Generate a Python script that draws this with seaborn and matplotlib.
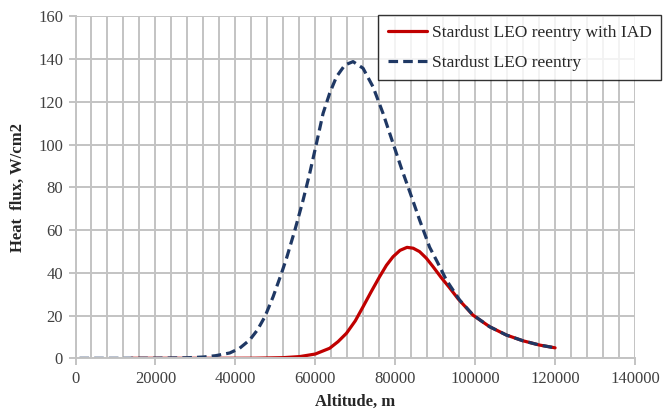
import matplotlib
matplotlib.use("Agg")
import matplotlib.pyplot as plt
import seaborn as sns
import pandas as pd
from matplotlib.ticker import MultipleLocator

# Data
alt_iad = [14000, 25000, 35000, 45000, 52000, 56100, 60000, 63600, 65700, 67800, 70000,
           71950, 74000, 76100, 77800, 79450, 81200, 82950, 84500, 86100, 87800,
           89450, 91500, 93600, 95700, 97800, 99450, 103600, 107800, 111950, 116100, 120000]
flux_iad = [0.0, 0.0, 0.0, 0.05, 0.3, 0.8, 2.0, 4.7, 7.8, 11.7, 17.5,
            24.1, 31.2, 38.2, 43.5, 47.5, 50.5, 51.9, 51.5, 49.9, 46.8,
            42.9, 37.8, 33.0, 27.9, 23.6, 20.2, 14.8, 10.9, 8.2, 6.2, 4.9]

alt_leo = [1000, 10000, 20000, 28000, 32000, 35000, 38600, 41000, 43600, 45500, 47400,
           49450, 51550, 52800, 54900, 56950, 58600, 60300, 61950, 63600, 65300,
           67400, 69450, 71950, 74450, 76950, 79450, 81550, 84000, 86100, 88600,
           90500, 92800, 96100, 99450, 103600, 107800, 111950, 116100, 120000]
flux_leo = [0.0, 0.0, 0.05, 0.25, 0.6, 1.2, 2.5, 4.6, 8.6, 13.2, 19.5,
            28.8, 39.8, 46.8, 60.0, 74.0, 86.5, 100.6, 114.6, 124.0, 131.7,
            137.2, 138.8, 135.7, 127.0, 114.6, 100.6, 88.9, 76.0, 64.7, 52.0,
            45.2, 36.6, 27.3, 20.3, 14.8, 10.9, 8.2, 6.2, 4.9]

label_iad = "Stardust LEO reentry with IAD"
label_leo = "Stardust LEO reentry"

df = pd.concat([
    pd.DataFrame({"alt": alt_iad, "flux": flux_iad, "series": label_iad}),
    pd.DataFrame({"alt": alt_leo, "flux": flux_leo, "series": label_leo}),
])

sns.set_theme(style="white")
plt.rcParams["font.family"] = ["Liberation Serif", "DejaVu Serif"]

fig = plt.figure(figsize=(6.7, 4.12), dpi=100)
ax = fig.add_axes([75.5 / 670, 1 - 358.3 / 412, 559.5 / 670, 342 / 412])

grid_c = "#c3c3c3"
sns.lineplot(data=df, x="alt", y="flux", hue="series", style="series",
             hue_order=[label_iad, label_leo], style_order=[label_iad, label_leo],
             palette=["#c00000", "#1f3864"],
             dashes={label_iad: "", label_leo: (3, 1.6)},
             linewidth=2.3, ax=ax, legend=True, sort=False)
for ln in ax.lines:
    ln.set_solid_joinstyle("round")
    ln.set_dash_joinstyle("round")

ax.set_xlim(0, 140000)
ax.set_ylim(0, 160)
ax.xaxis.set_major_locator(MultipleLocator(20000))
ax.xaxis.set_minor_locator(MultipleLocator(4000))
ax.yaxis.set_major_locator(MultipleLocator(20))
ax.grid(which="major", axis="both", color=grid_c, linewidth=1.4)
ax.grid(which="minor", axis="x", color=grid_c, linewidth=1.4)
ax.set_axisbelow(True)
for s in ["top", "right"]:
    ax.spines[s].set_visible(False)
for s in ["left", "bottom"]:
    ax.spines[s].set_color(grid_c)
    ax.spines[s].set_linewidth(1.4)
ax.tick_params(axis="both", which="major", direction="out", length=5, width=1.4,
               color=grid_c, labelsize=12, labelcolor="#404040", pad=4)
ax.tick_params(axis="x", which="minor", length=0)
ax.tick_params(bottom=True, left=True)

ax.set_xlabel("Altitude, m", fontsize=12, fontweight="bold", labelpad=5)
ax.set_ylabel("Heat  flux, W/cm2", fontsize=12, fontweight="bold", labelpad=9)

leg = ax.legend(loc="upper left", bbox_to_anchor=(378 / 670, 1 - 15 / 412),
                bbox_transform=fig.transFigure, frameon=True, fancybox=False,
                fontsize=12.5, handlelength=2.3, handletextpad=0.25,
                borderpad=0.55, labelspacing=0.8, borderaxespad=0)
leg.get_frame().set_edgecolor("black")
leg.get_frame().set_linewidth(1.0)

fig.savefig("out.png", dpi=100)
